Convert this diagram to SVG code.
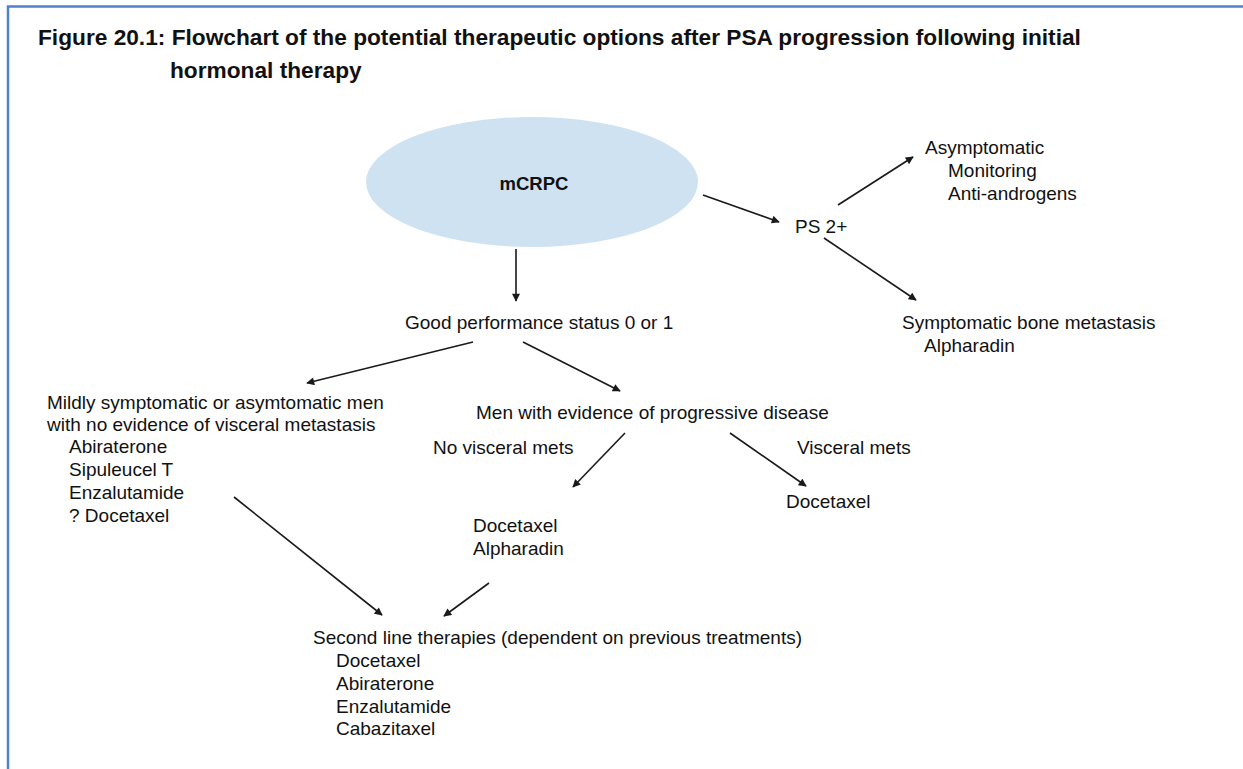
<svg xmlns="http://www.w3.org/2000/svg" width="1243" height="769" viewBox="0 0 1243 769">
  <style>
    .frame { fill: none; stroke: #4f81c7; stroke-width: 2.5; }
    .title { font-family: "Liberation Sans", Arial, sans-serif; font-weight: bold; font-size: 22.7px; fill: #111; }
    .lbl { font-family: "Liberation Sans", Arial, sans-serif; font-size: 19px; fill: #111; }
    .node-title { font-family: "Liberation Sans", Arial, sans-serif; font-weight: bold; font-size: 18.5px; fill: #111; }
    .conn { stroke: #1a1a1a; stroke-width: 1.6; fill: none; marker-end: url(#arrow); }
  </style>
  <defs>
    <marker id="arrow" viewBox="0 0 10 10" refX="9" refY="5" markerWidth="9" markerHeight="8" markerUnits="userSpaceOnUse" orient="auto">
      <path d="M0,0 L10,5 L0,10 z" fill="#1a1a1a"/>
    </marker>
  </defs>

  <rect width="1243" height="769" fill="#ffffff"/>
  <!-- outer frame (open on the right and bottom) -->
  <path class="frame" d="M8,790 L8,6.5 L1260,6.5"/>

  <g id="title">
    <text class="title" x="38" y="45">Figure 20.1: Flowchart of the potential therapeutic options after PSA progression following initial</text>
    <text class="title" x="170" y="78">hormonal therapy</text>
  </g>

  <g id="connectors">
    <line class="conn" x1="703" y1="195" x2="779" y2="222"/>
    <line class="conn" x1="838" y1="205" x2="913" y2="157"/>
    <line class="conn" x1="824" y1="238" x2="916" y2="300"/>
    <line class="conn" x1="516" y1="249" x2="516" y2="301"/>
    <line class="conn" x1="473" y1="342" x2="307" y2="383"/>
    <line class="conn" x1="523" y1="342" x2="620" y2="391"/>
    <line class="conn" x1="625" y1="433" x2="573" y2="487"/>
    <line class="conn" x1="730" y1="433" x2="806" y2="486"/>
    <line class="conn" x1="234" y1="497" x2="382" y2="615"/>
    <line class="conn" x1="489" y1="583" x2="444" y2="616"/>
  </g>

  <g id="mcrpc">
    <ellipse cx="532" cy="182" rx="166" ry="65" fill="#cfe2f1"/>
    <text class="node-title" x="534" y="190" text-anchor="middle">mCRPC</text>
  </g>

  <g id="ps2">
    <text class="lbl" x="795" y="233">PS 2+</text>
  </g>

  <g id="asymptomatic">
    <text class="lbl" x="925" y="154">Asymptomatic</text>
    <text class="lbl" x="948" y="177">Monitoring</text>
    <text class="lbl" x="948" y="200">Anti-androgens</text>
  </g>

  <g id="symptomatic-bone">
    <text class="lbl" x="902" y="329">Symptomatic bone metastasis</text>
    <text class="lbl" x="924" y="352">Alpharadin</text>
  </g>

  <g id="good-ps">
    <text class="lbl" x="405" y="329">Good performance status 0 or 1</text>
  </g>

  <g id="mildly-symptomatic">
    <text class="lbl" x="47" y="409">Mildly symptomatic or asymtomatic men</text>
    <text class="lbl" x="47" y="431">with no evidence of visceral metastasis</text>
    <text class="lbl" x="69" y="453">Abiraterone</text>
    <text class="lbl" x="69" y="476">Sipuleucel T</text>
    <text class="lbl" x="69" y="499">Enzalutamide</text>
    <text class="lbl" x="69" y="522">? Docetaxel</text>
  </g>

  <g id="progressive">
    <text class="lbl" x="476" y="419">Men with evidence of progressive disease</text>
    <text class="lbl" x="433" y="454">No visceral mets</text>
    <text class="lbl" x="797" y="454">Visceral mets</text>
  </g>

  <g id="visceral-tx">
    <text class="lbl" x="786" y="508">Docetaxel</text>
  </g>

  <g id="no-visceral-tx">
    <text class="lbl" x="473" y="532">Docetaxel</text>
    <text class="lbl" x="473" y="555">Alpharadin</text>
  </g>

  <g id="second-line">
    <text class="lbl" x="313" y="644">Second line therapies (dependent on previous treatments)</text>
    <text class="lbl" x="336" y="667">Docetaxel</text>
    <text class="lbl" x="336" y="690">Abiraterone</text>
    <text class="lbl" x="336" y="713">Enzalutamide</text>
    <text class="lbl" x="336" y="735">Cabazitaxel</text>
  </g>
</svg>
